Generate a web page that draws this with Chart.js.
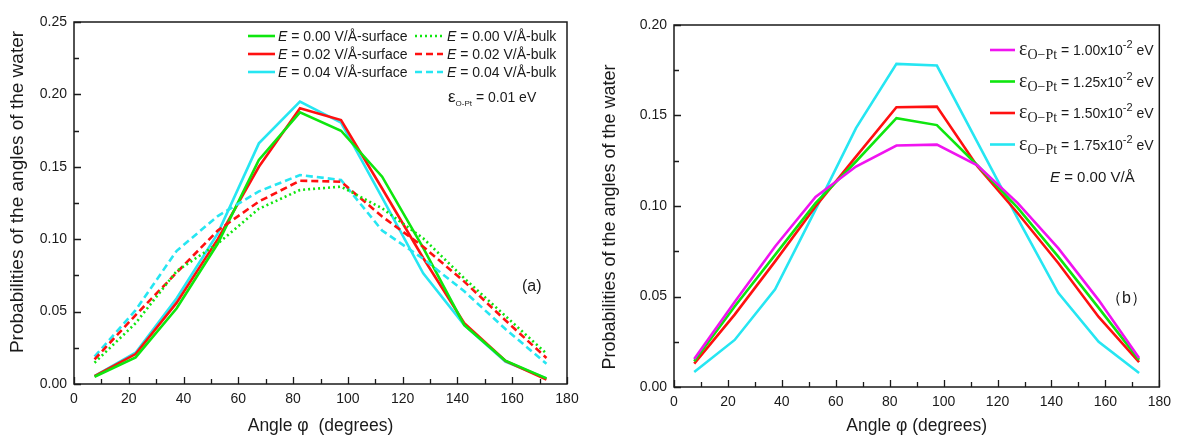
<!DOCTYPE html>
<html>
<head>
<meta charset="utf-8">
<script src="https://cdn.jsdelivr.net/npm/chart.js@4.4.1/dist/chart.umd.min.js"></script>
<style>
  body { margin: 0; background: #fff; }
  #wrap { position: relative; width: 1178px; height: 438px; }
  #chart-a { position: absolute; left: 0; top: 0; }
  #chart-b { position: absolute; left: 590px; top: 0; }
</style>
</head>
<body>
<div id="wrap">
  <canvas id="chart-a" width="590" height="438"></canvas>
  <canvas id="chart-b" width="588" height="438"></canvas>
</div>
<script>
// bin centres of the angle histogram (degrees)
const angles = [7.5, 22.5, 37.5, 52.5, 67.5, 82.5, 97.5, 112.5, 127.5, 142.5, 157.5, 172.5];

// panel (a): field strength E (V/Å), surface and bulk water
const fieldLabels = ['0.00', '0.02', '0.04'];
const surfaceE000 = [0.0050, 0.0184, 0.0523, 0.0970, 0.1547, 0.1876, 0.1749, 0.1432, 0.0940, 0.0407, 0.0161, 0.0039];
const surfaceE002 = [0.0055, 0.0207, 0.0562, 0.1000, 0.1500, 0.1904, 0.1823, 0.1350, 0.0870, 0.0420, 0.0160, 0.0030];
const surfaceE004 = [0.0055, 0.0216, 0.0592, 0.1040, 0.1662, 0.1950, 0.1805, 0.1287, 0.0764, 0.0407, 0.0155, 0.0039];
const bulkE000 = [0.0147, 0.0420, 0.0780, 0.0970, 0.1210, 0.1340, 0.1363, 0.1213, 0.1006, 0.0730, 0.0470, 0.0210];
const bulkE002 = [0.0170, 0.0476, 0.0770, 0.1060, 0.1260, 0.1404, 0.1397, 0.1157, 0.0948, 0.0707, 0.0440, 0.0180];
const bulkE004 = [0.0190, 0.0510, 0.0920, 0.1160, 0.1330, 0.1443, 0.1409, 0.1060, 0.0865, 0.0640, 0.0380, 0.0140];

// panel (b): interaction strength eps(O-Pt) in 1e-2 eV, E = 0
const epsLabels = ['1.00', '1.25', '1.50', '1.75'];
const eps100 = [0.0155, 0.0470, 0.0776, 0.1050, 0.1218, 0.1334, 0.1339, 0.1225, 0.1016, 0.0767, 0.0480, 0.0160];
const eps125 = [0.0142, 0.0445, 0.0730, 0.1016, 0.1246, 0.1485, 0.1447, 0.1225, 0.0990, 0.0720, 0.0437, 0.0150];
const eps150 = [0.0129, 0.0400, 0.0694, 0.0997, 0.1273, 0.1546, 0.1549, 0.1220, 0.0960, 0.0685, 0.0387, 0.0138];
const eps175 = [0.0083, 0.0260, 0.0540, 0.0980, 0.1430, 0.1785, 0.1776, 0.1353, 0.0930, 0.0520, 0.0250, 0.0077];

const GREEN = '#0ee60e';
const RED = '#ff1010';
const CYAN = '#26e6f2';
const MAGENTA = '#f014f0';
const INK = '#1a1a1a';
const SANS = "'Liberation Sans', Arial, sans-serif";
const SERIF = "'Liberation Serif', 'Times New Roman', serif";
const Y_TITLE = 'Probabilities of the angles of the water';

Chart.defaults.font.family = SANS;
Chart.defaults.color = INK;

function series(values, color, dash) {
    return {
        data: values.map((v, i) => ({ x: angles[i], y: v })),
        borderColor: color,
        borderWidth: 2.6,
        borderDash: dash || [],
        borderCapStyle: 'butt',
        pointRadius: 0,
        tension: 0,
        fill: false
    };
}

// frame round the plot area + inward major/minor ticks + rotated y title
const axisFrame = {
    id: 'axisFrame',
    afterDatasetsDraw(chart, args, opts) {
        const { ctx, chartArea: a, scales: { x, y } } = chart;
        ctx.save();
        ctx.strokeStyle = INK;
        ctx.lineWidth = 1.5;
        ctx.strokeRect(a.left, a.top, a.right - a.left, a.bottom - a.top);
        ctx.lineWidth = 1.3;
        ctx.beginPath();
        for (let v = 0; v <= 180; v += 10) {
            const px = Math.round(x.getPixelForValue(v)) + 0.5;
            const len = v % 20 === 0 ? 7 : 5;
            ctx.moveTo(px, a.bottom);
            ctx.lineTo(px, a.bottom - len);
        }
        const step = opts.yMinor;
        for (let i = 0; i * step <= y.max + 1e-9; i++) {
            const py = Math.round(y.getPixelForValue(i * step)) + 0.5;
            const len = i % 2 === 0 ? 7 : 5;
            ctx.moveTo(a.left, py);
            ctx.lineTo(a.left + len, py);
        }
        ctx.stroke();

        // y title, placed like the original (not exactly centred on the axis)
        ctx.translate(opts.titleX, opts.titleY);
        ctx.rotate(-Math.PI / 2);
        ctx.fillStyle = INK;
        ctx.font = opts.titleSize + 'px ' + SANS;
        ctx.textAlign = 'center';
        ctx.textBaseline = 'middle';
        ctx.fillText(Y_TITLE, 0, 0);
        ctx.restore();
    }
};

function drawRuns(ctx, x, y, runs) {
    runs.forEach(r => {
        ctx.font = r.font;
        ctx.fillText(r.text, x, y + (r.dy || 0));
        x += ctx.measureText(r.text).width;
    });
    return x;
}

function legendLine(ctx, x0, x1, y, color, dash) {
    ctx.save();
    ctx.strokeStyle = color;
    ctx.lineWidth = 2.6;
    ctx.setLineDash(dash || []);
    ctx.beginPath();
    ctx.moveTo(x0, y);
    ctx.lineTo(x1, y);
    ctx.stroke();
    ctx.restore();
}

const DOT = [2, 3];
const DASH = [7, 4];

const legendA = {
    id: 'legendA',
    afterDraw(chart) {
        const ctx = chart.ctx;
        const colors = [GREEN, RED, CYAN];
        const bulkDash = [DOT, DASH, DASH];
        ctx.save();
        ctx.fillStyle = INK;
        ctx.textBaseline = 'alphabetic';
        fieldLabels.forEach((lab, i) => {
            const cy = 36 + i * 18;
            legendLine(ctx, 248, 275, cy, colors[i]);
            drawRuns(ctx, 278, cy + 5, [
                { text: 'E', font: 'italic 14px ' + SANS },
                { text: ' = ' + lab + ' V/Å-surface', font: '14px ' + SANS }
            ]);
            legendLine(ctx, 415, 443, cy, colors[i], bulkDash[i]);
            drawRuns(ctx, 447, cy + 5, [
                { text: 'E', font: 'italic 14px ' + SANS },
                { text: ' = ' + lab + ' V/Å-bulk', font: '14px ' + SANS }
            ]);
        });
        drawRuns(ctx, 448, 102, [
            { text: 'ε', font: '17px ' + SANS },
            { text: 'O-Pt', font: '8px ' + SANS, dy: 4 },
            { text: ' = 0.01 eV', font: '14px ' + SANS }
        ]);
        ctx.font = '16px ' + SANS;
        ctx.fillText('(a)', 522, 291);
        ctx.restore();
    }
};

const legendB = {
    id: 'legendB',
    afterDraw(chart) {
        const ctx = chart.ctx;
        const colors = [MAGENTA, GREEN, RED, CYAN];
        ctx.save();
        ctx.fillStyle = INK;
        ctx.textBaseline = 'alphabetic';
        epsLabels.forEach((lab, i) => {
            const cy = 50 + i * 31.5;
            legendLine(ctx, 400, 425, cy, colors[i]);
            drawRuns(ctx, 429, cy + 5, [
                { text: 'ε', font: '20px ' + SERIF },
                { text: 'O−Pt', font: '14px ' + SERIF, dy: 4 },
                { text: ' = ' + lab + 'x10', font: '14px ' + SANS },
                { text: '-2', font: '11px ' + SANS, dy: -7 },
                { text: ' eV', font: '14px ' + SANS }
            ]);
        });
        drawRuns(ctx, 460, 182, [
            { text: 'E', font: 'italic 15px ' + SANS },
            { text: ' = 0.00 V/Å', font: '15px ' + SANS }
        ]);
        ctx.font = '16px ' + SANS;
        ctx.fillText('（b）', 516, 303);
        ctx.restore();
    }
};

function makeChart(id, datasets, yMax, yWidth, xHeight, padding, xTitle, frameOpts, extra) {
    return new Chart(document.getElementById(id), {
        type: 'line',
        data: { datasets },
        options: {
            responsive: false,
            animation: false,
            layout: { padding },
            plugins: {
                legend: { display: false },
                tooltip: { enabled: false },
                axisFrame: Object.assign({ yMinor: 0.025 }, frameOpts)
            },
            scales: {
                x: {
                    type: 'linear',
                    min: 0,
                    max: 180,
                    ticks: { stepSize: 20, font: { size: 14 }, padding: 7, maxRotation: 0, autoSkip: false },
                    grid: { display: false, drawTicks: false },
                    border: { display: false },
                    title: { display: true, text: xTitle, font: { size: 17.5 }, padding: { top: 0, bottom: 1.5 } },
                    afterFit(scale) { scale.height = xHeight; }
                },
                y: {
                    min: 0,
                    max: yMax,
                    ticks: { stepSize: 0.05, font: { size: 14 }, padding: 7, callback: v => v.toFixed(2) },
                    grid: { display: false, drawTicks: false },
                    border: { display: false },
                    afterFit(scale) { scale.width = yWidth; }
                }
            }
        },
        plugins: [axisFrame, extra]
    });
}

makeChart('chart-a', [
    series(bulkE000, GREEN, DOT),
    series(bulkE002, RED, DASH),
    series(bulkE004, CYAN, DASH),
    series(surfaceE000, GREEN),
    series(surfaceE002, RED),
    series(surfaceE004, CYAN)
], 0.25, 74, 54, { top: 22, right: 23, left: 0, bottom: 0 }, 'Angle φ  (degrees)',
    { titleX: 18, titleY: 192, titleSize: 19 }, legendA);

makeChart('chart-b', [
    series(eps100, MAGENTA),
    series(eps125, GREEN),
    series(eps150, RED),
    series(eps175, CYAN)
], 0.20, 84, 51, { top: 25, right: 14, left: 0, bottom: 0 }, 'Angle φ (degrees)',
    { titleX: 20, titleY: 217, titleSize: 18 }, legendB);
</script>
</body>
</html>
